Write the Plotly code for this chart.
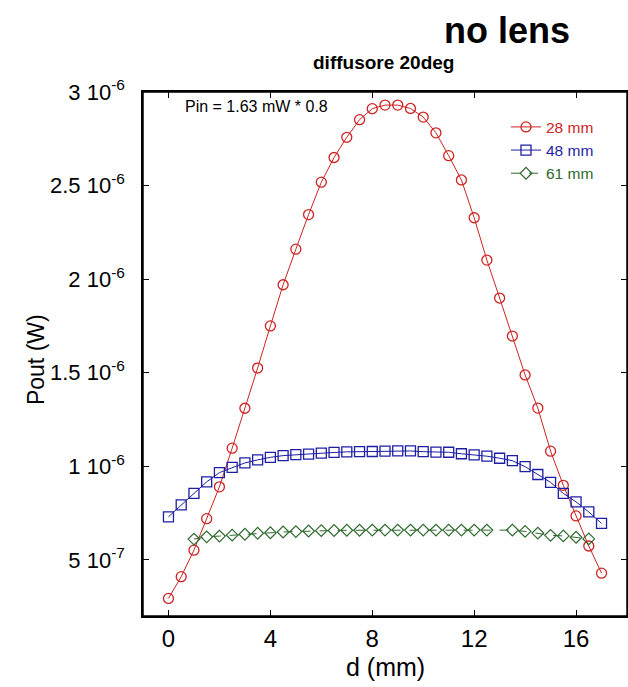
import numpy as np
import plotly.graph_objects as go

# ---- data (Pout in microwatts, converted to W below) ----
d_mm = [0, 0.5, 1, 1.5, 2, 2.5, 3, 3.5, 4, 4.5, 5, 5.5, 6, 6.5, 7, 7.5, 8, 8.5,
        9, 9.5, 10, 10.5, 11, 11.5, 12, 12.5, 13, 13.5, 14, 14.5, 15, 15.5, 16, 16.5, 17]

pout_28mm_uW = [0.294, 0.410, 0.552, 0.720, 0.890, 1.097, 1.310, 1.525, 1.750, 1.970,
                2.160, 2.345, 2.518, 2.650, 2.758, 2.852, 2.911, 2.930, 2.930, 2.912,
                2.866, 2.782, 2.660, 2.530, 2.328, 2.102, 1.899, 1.696, 1.488, 1.311,
                1.081, 0.898, 0.735, 0.574, 0.429]

pout_48mm_uW = [0.730, 0.794, 0.855, 0.917, 0.966, 0.994, 1.018, 1.034, 1.048, 1.057,
                1.062, 1.065, 1.070, 1.074, 1.077, 1.078, 1.079, 1.081, 1.082, 1.082,
                1.078, 1.076, 1.075, 1.067, 1.061, 1.054, 1.043, 1.030, 0.998, 0.956,
                0.914, 0.855, 0.810, 0.756, 0.695]

d_61mm = [1, 1.5, 2, 2.5, 3, 3.5, 4, 4.5, 5, 5.5, 6, 6.5, 7, 7.5, 8, 8.5, 9, 9.5,
          10, 10.5, 11, 11.5, 12, 12.5, 13.5, 14, 14.5, 15, 15.5, 16, 16.5]
pout_61mm_uW = [0.611, 0.623, 0.627, 0.632, 0.637, 0.642, 0.645, 0.649, 0.651, 0.654,
                0.656, 0.657, 0.658, 0.658, 0.659, 0.659, 0.659, 0.659, 0.659, 0.659,
                0.659, 0.659, 0.659, 0.659, 0.659, 0.652, 0.643, 0.631, 0.628, 0.621, 0.612]

x_ticks = [0, 4, 8, 12, 16]
y_tickvals = [5e-7, 1e-6, 1.5e-6, 2e-6, 2.5e-6, 3e-6]
y_ticktext = ["5 10<sup>-7</sup>", "1 10<sup>-6</sup>", "1.5 10<sup>-6</sup>",
              "2 10<sup>-6</sup>", "2.5 10<sup>-6</sup>", "3 10<sup>-6</sup>"]

RED = "rgb(205,35,35)"
BLUE = "rgb(30,30,165)"
GREEN = "rgb(45,105,45)"
FONT = "Liberation Sans, Arial, sans-serif"

W = 1e-6
fig = go.Figure()
fig.add_trace(go.Scatter(
    x=d_mm, y=np.array(pout_28mm_uW) * W, mode="lines+markers",
    name=f'<span style="color:{RED}">28 mm</span>',
    line=dict(color=RED, width=1),
    marker=dict(symbol="circle-open", size=10, color=RED, line=dict(width=1.3, color=RED))))
fig.add_trace(go.Scatter(
    x=d_mm, y=np.array(pout_48mm_uW) * W, mode="lines+markers",
    name=f'<span style="color:{BLUE}">48 mm</span>',
    line=dict(color=BLUE, width=1),
    marker=dict(symbol="square-open", size=10, color=BLUE, line=dict(width=1.3, color=BLUE))))
fig.add_trace(go.Scatter(
    x=d_61mm, y=np.array(pout_61mm_uW) * W, mode="lines+markers",
    name=f'<span style="color:{GREEN}">61 mm</span>',
    line=dict(color=GREEN, width=1, dash="dash"),
    marker=dict(symbol="diamond-open", size=9, color=GREEN, line=dict(width=1.2, color=GREEN))))

axis_common = dict(showline=True, linecolor="black", linewidth=1.5, mirror="ticks",
                   ticks="inside", ticklen=6, tickwidth=1, tickcolor="black",
                   showgrid=False, zeroline=False)

fig.update_layout(
    width=628, height=687,
    margin=dict(l=143, r=1, t=92, b=71, autoexpand=False),
    paper_bgcolor="white", plot_bgcolor="white",
    font=dict(family=FONT, color="black"),
    showlegend=True,
    legend=dict(x=0.75, y=0.965, xanchor="left", yanchor="top",
                bgcolor="rgba(0,0,0,0)", font=dict(size=15.5, family=FONT),
                tracegroupgap=0),
    xaxis=dict(range=[-1, 18], tickvals=x_ticks, tickfont=dict(size=24),
               ticklabelstandoff=0, **axis_common),
    yaxis=dict(range=[2e-7, 3e-6], tickvals=y_tickvals, ticktext=y_ticktext,
               tickfont=dict(size=22), ticklabelstandoff=12, **axis_common),
    shapes=[dict(type="rect", xref="paper", yref="paper", x0=0, x1=1, y0=0, y1=1,
                 line=dict(color="black", width=1.5), fillcolor="rgba(0,0,0,0)",
                 layer="above")],
    annotations=[
        dict(text="<b>no lens</b>", x=0.752, y=1.118, xref="paper", yref="paper",
             xanchor="center", yanchor="middle", showarrow=False, font=dict(size=36)),
        dict(text="<b>diffusore 20deg</b>", x=0.496, y=1.057, xref="paper", yref="paper",
             xanchor="center", yanchor="middle", showarrow=False, font=dict(size=19)),
        dict(text="Pin = 1.63 mW * 0.8", x=0.0826, y=0.973, xref="paper", yref="paper",
             xanchor="left", yanchor="middle", showarrow=False, font=dict(size=16)),
        dict(text="d (mm)", x=0.502, y=-0.0973, xref="paper", yref="paper",
             xanchor="center", yanchor="middle", showarrow=False, font=dict(size=25)),
        dict(text="Pout (W)", x=-0.221, y=0.4885, xref="paper", yref="paper",
             xanchor="center", yanchor="middle", textangle=-90, showarrow=False,
             font=dict(size=23)),
    ],
)

fig.write_html("out.html")
